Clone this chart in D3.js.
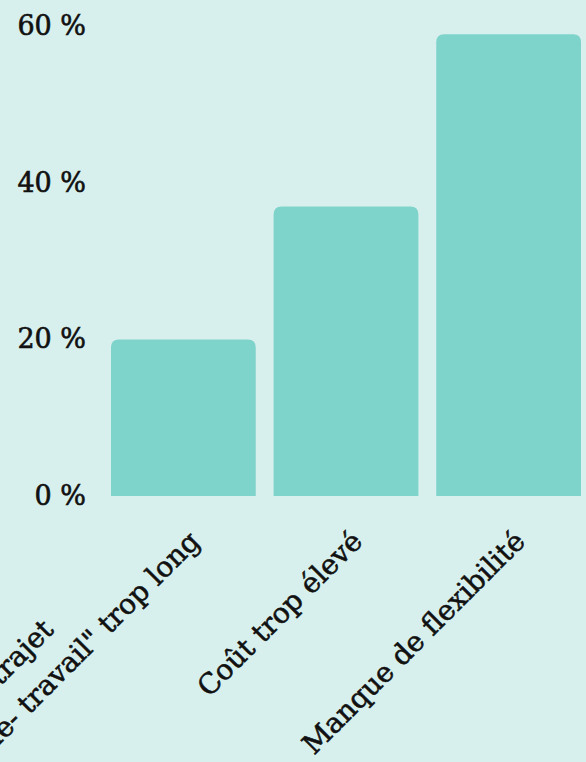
<!DOCTYPE html>
<html>
<head>
<meta charset="utf-8">
<script src="https://cdn.jsdelivr.net/npm/d3@7"></script>
<style>
  body { margin: 0; background: #d7f0ed; }
  svg { display: block; }
</style>
</head>
<body>
<svg id="chart"></svg>
<script>
// data
const categories = [
  ["Temps de trajet", "\"domicile- travail\" trop long"],
  ["Coût trop élevé"],
  ["Manque de flexibilité"]
];
const values = [20, 37, 59];
const yTicks = [0, 20, 40, 60];

const width = 586, height = 762;
const baseline = 496;
const font = "'DejaVu Serif', serif";

const svg = d3.select('#chart')
    .attr('width', width)
    .attr('height', height);

svg.append('rect')
    .attr('width', width)
    .attr('height', height)
    .attr('fill', '#d7f0ed');

const x = d3.scaleBand()
    .domain(d3.range(categories.length))
    .range([111, 581])
    .paddingInner(0.11)
    .paddingOuter(0);

const y = d3.scaleLinear()
    .domain([0, 60])
    .range([baseline, 26.5]);

// bar with rounded top corners only
function barPath(x0, w, yTop, yBot, r) {
  r = Math.min(r, w / 2, yBot - yTop);
  return `M${x0},${yBot}V${yTop + r}Q${x0},${yTop} ${x0 + r},${yTop}`
    + `H${x0 + w - r}Q${x0 + w},${yTop} ${x0 + w},${yTop + r}V${yBot}Z`;
}

svg.append('g')
  .selectAll('path')
  .data(values)
  .join('path')
    .attr('d', (d, i) => barPath(x(i), x.bandwidth(), y(d), y(0), 8))
    .attr('fill', '#7ed3cb');

// y axis labels
svg.append('g')
  .selectAll('text')
  .data(yTicks)
  .join('text')
    .attr('x', 86)
    .attr('y', d => y(d) - 1)
    .attr('text-anchor', 'end')
    .attr('dominant-baseline', 'central')
    .attr('font-family', font)
    .attr('font-size', '27px')
    .attr('fill', '#111')
    .attr('stroke', '#111')
    .attr('stroke-width', 0.6)
    .text(d => `${d} %`);

// rotated category labels
const labels = svg.append('g')
  .selectAll('g')
  .data(categories)
  .join('g')
    .attr('transform', (d, i) => `translate(${x(i) + x.bandwidth() / 2 + 18},${baseline + 47}) rotate(-45)`);

labels.selectAll('text')
  .data(d => d.map((line, j) => ({ line, j, n: d.length })))
  .join('text')
    .attr('x', d => d.n > 1 && d.j === 0 ? -166 : 0)
    .attr('y', d => (d.j - d.n + 1) * 41)
    .attr('text-anchor', 'end')
    .attr('font-family', font)
    .attr('font-size', '28px')
    .attr('fill', '#111')
    .attr('stroke', '#111')
    .attr('stroke-width', 0.6)
    .text(d => d.line);
</script>
</body>
</html>
